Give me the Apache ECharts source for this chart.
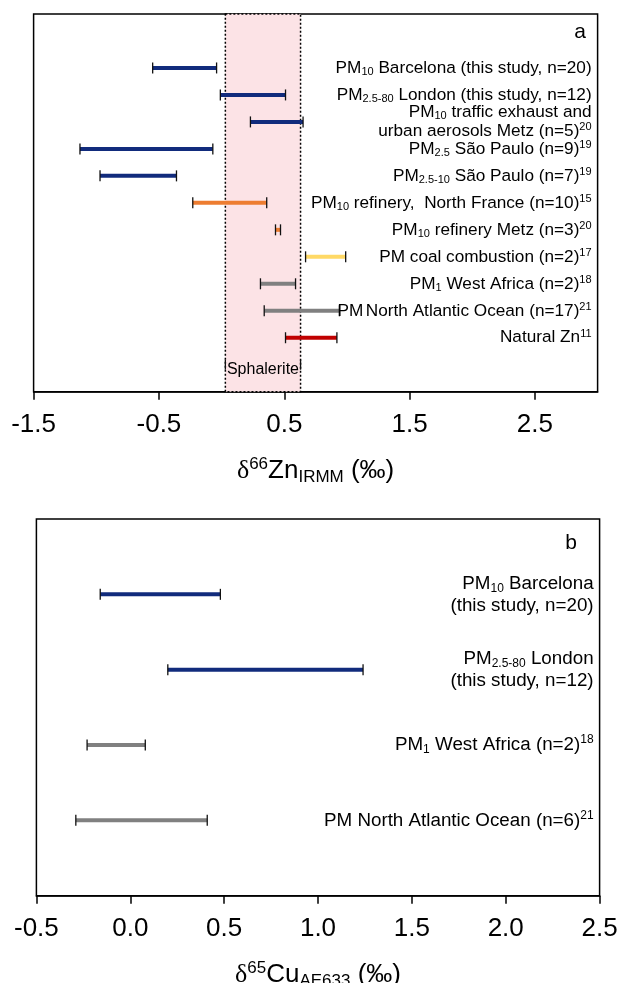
<!DOCTYPE html>
<html>
<head>
<meta charset="utf-8">
<title>Zn and Cu isotope ranges</title>
<script src="https://cdn.jsdelivr.net/npm/echarts@6/dist/echarts.min.js"></script>
<style>
html, body { margin: 0; padding: 0; background: #fff; }
#myChart { width: 620px; height: 983px; }
</style>
</head>
<body>
<div id="myChart"></div>
<script>
// ---- panel a : d66Zn ranges ----
var znLabels = [
  '{t|PM}{sub|10}{t| Barcelona (this study, n=20)}',
  '{t|PM}{sub|2.5-80}{t| London (this study, n=12)}',
  '{t|PM}{sub|10}{t| traffic exhaust and}\n{t|urban aerosols Metz (n=5)}{sup|20}',
  '{t|PM}{sub|2.5}{t| São Paulo (n=9)}{sup|19}',
  '{t|PM}{sub|2.5-10}{t| São Paulo (n=7)}{sup|19}',
  '{t|PM}{sub|10}{t| refinery,  North France (n=10)}{sup|15}',
  '{t|PM}{sub|10}{t| refinery Metz (n=3)}{sup|20}',
  '{t|PM coal combustion (n=2)}{sup|17}',
  '{t|PM}{sub|1}{t| West Africa (n=2)}{sup|18}',
  '{t|PM}{sp| }{t|North Atlantic Ocean (n=17)}{sup|21}',
  '{t|Natural Zn}{sup|11}'
];
var znLow  = [-0.55, -0.01, 0.23, -1.13, -0.97, -0.23, 0.43, 0.67, 0.31, 0.34, 0.51];
var znHigh = [-0.04,  0.51, 0.65, -0.07, -0.36,  0.36, 0.47, 0.99, 0.59, 0.94, 0.92];
var znGroup = ['urban', 'urban', 'urban', 'urban', 'urban', 'refinery', 'refinery', 'coal', 'remote', 'remote', 'natural'];
var sphalerite = [0.03, 0.63];
var znTicks = [-1.5, -0.5, 0.5, 1.5, 2.5];

// ---- panel b : d65Cu ranges ----
var cuLabels = [
  '{t|PM}{sub|10}{t| Barcelona}\n{t|(this study, n=20)}',
  '{t|PM}{sub|2.5-80}{t| London}\n{t|(this study, n=12)}',
  '{t|PM}{sub|1}{t| West Africa (n=2)}{sup|18}',
  '{t|PM North Atlantic Ocean (n=6)}{sup|21}'
];
var cuLow  = [-0.16, 0.20, -0.23, -0.29];
var cuHigh = [ 0.48, 1.24,  0.08,  0.41];
var cuGroup = ['urban', 'urban', 'remote', 'remote'];

var groupColors = {
  urban: '#112b7c',
  refinery: '#ed7d31',
  coal: '#ffd966',
  remote: '#808080',
  natural: '#c00000'
};

var FONT = 'Liberation Sans, Arial, sans-serif';

var richA = {
  t: { fontSize: 17.2, lineHeight: 19, fontFamily: FONT, fill: '#000' },
  sp: { fontSize: 9, lineHeight: 10, fontFamily: FONT, fill: '#000' },
  sub: { fontSize: 11, lineHeight: 10, verticalAlign: 'bottom', fontFamily: FONT, fill: '#000' },
  sup: { fontSize: 11, lineHeight: 10, verticalAlign: 'top', fontFamily: FONT, fill: '#000' }
};
var richB = {
  t: { fontSize: 18.8, lineHeight: 22, fontFamily: FONT, fill: '#000' },
  sub: { fontSize: 12, lineHeight: 11, verticalAlign: 'bottom', fontFamily: FONT, fill: '#000' },
  sup: { fontSize: 12, lineHeight: 11, verticalAlign: 'top', fontFamily: FONT, fill: '#000' }
};

function makeData(low, high, group, firstRow) {
  var out = [];
  for (var i = 0; i < low.length; i++) {
    out.push({
      value: [low[i], high[i], i + firstRow],
      itemStyle: { color: groupColors[group[i]] }
    });
  }
  return out;
}

// error bar + caps + label on the right
function rangeRenderer(labels, rich) {
  return function (params, api) {
    var row = api.value(2);
    var p0 = api.coord([api.value(0), row]);
    var p1 = api.coord([api.value(1), row]);
    var cs = params.coordSys;
    var capH = 5.5;
    return {
      type: 'group',
      children: [
        { type: 'line', shape: { x1: p0[0], y1: p0[1], x2: p1[0], y2: p1[1] },
          style: { stroke: api.visual('color'), lineWidth: 4 } },
        { type: 'line', shape: { x1: p0[0], y1: p0[1] - capH, x2: p0[0], y2: p0[1] + capH },
          style: { stroke: '#111', lineWidth: 1.3 } },
        { type: 'line', shape: { x1: p1[0], y1: p1[1] - capH, x2: p1[0], y2: p1[1] + capH },
          style: { stroke: '#111', lineWidth: 1.3 } },
        { type: 'text', x: cs.x + cs.width - 6, y: p0[1],
          style: { text: labels[params.dataIndex], rich: rich, align: 'right', verticalAlign: 'middle',
                   fill: '#000', fontFamily: FONT } }
      ]
    };
  };
}

function sphaleriteRenderer(params, api) {
  var row = api.value(2);
  var p0 = api.coord([api.value(0), row]);
  var p1 = api.coord([api.value(1), row]);
  return {
    type: 'group',
    children: [
      { type: 'line', shape: { x1: p0[0], y1: p0[1] - 5, x2: p0[0], y2: p0[1] + 5 },
        style: { stroke: '#111', lineWidth: 1.3 } },
      { type: 'line', shape: { x1: p1[0], y1: p1[1] - 5, x2: p1[0], y2: p1[1] + 5 },
        style: { stroke: '#111', lineWidth: 1.3 } },
      { type: 'text', x: (p0[0] + p1[0]) / 2, y: p0[1] + 5,
        style: { text: 'Sphalerite', align: 'center', verticalAlign: 'middle',
                 fill: '#000', fontSize: 16, fontFamily: FONT } }
    ]
  };
}

var axisCommon = {
  type: 'value',
  splitLine: { show: false },
  axisLine: { show: true, onZero: false, lineStyle: { color: '#000', width: 1.5 } },
  axisTick: { show: true, inside: false, length: 8, lineStyle: { color: '#000', width: 1.5 } },
  nameLocation: 'middle',
  nameGap: 64,
  nameTextStyle: {
    fontSize: 26, fontFamily: FONT, color: '#000',
    rich: {
      d: { fontSize: 26, lineHeight: 30, fontFamily: 'Liberation Serif, serif', color: '#000' },
      t: { fontSize: 26, lineHeight: 30, fontFamily: FONT, color: '#000' },
      sub: { fontSize: 17, lineHeight: 15, verticalAlign: 'bottom', fontFamily: FONT, color: '#000' },
      sup: { fontSize: 17, lineHeight: 15, verticalAlign: 'top', fontFamily: FONT, color: '#000' }
    }
  }
};

var myChart = echarts.init(document.getElementById('myChart'), null, { renderer: 'canvas' });

var option = {
  backgroundColor: '#fff',
  animation: false,
  textStyle: { fontFamily: FONT },
  grid: [
    { left: 33.6, right: 22.4, top: 14, height: 377.7, outerBoundsMode: 'none', containLabel: false,
      show: true, borderColor: '#000', borderWidth: 1.5, backgroundColor: '#fff' },
    { left: 36.4, right: 20.4, top: 519, height: 376.7, outerBoundsMode: 'none', containLabel: false,
      show: true, borderColor: '#000', borderWidth: 1.5, backgroundColor: '#fff' }
  ],
  xAxis: [
    Object.assign({}, axisCommon, {
      gridIndex: 0, min: -1.5, max: 3,
      name: '{d|δ}{sup|66}{t|Zn}{sub|IRMM}{t| (‰)}',
      axisTick: Object.assign({}, axisCommon.axisTick, { customValues: znTicks }),
      axisLabel: { customValues: znTicks, fontSize: 26, color: '#000', margin: 20, fontFamily: FONT }
    }),
    Object.assign({}, axisCommon, {
      gridIndex: 1, min: -0.5, max: 2.5, interval: 0.5,
      name: '{d|δ}{sup|65}{t|Cu}{sub|AE633}{t| (‰)}',
      axisLabel: { fontSize: 26, color: '#000', margin: 20, fontFamily: FONT,
                   showMinLabel: true, showMaxLabel: true,
                   formatter: function (v) { return v.toFixed(1); } }
    })
  ],
  yAxis: [
    { type: 'value', gridIndex: 0, min: 0, max: 14, inverse: true, show: false },
    { type: 'value', gridIndex: 1, min: 0, max: 5, inverse: true, show: false }
  ],
  graphic: [
    { type: 'text', x: 580, y: 32, style: { text: 'a', fontSize: 21, fontFamily: FONT, fill: '#000', align: 'center', verticalAlign: 'middle' } },
    { type: 'text', x: 571, y: 543, style: { text: 'b', fontSize: 21, fontFamily: FONT, fill: '#000', align: 'center', verticalAlign: 'middle' } }
  ],
  series: [
    {
      // sphalerite band behind everything
      name: 'band',
      type: 'line',
      xAxisIndex: 0, yAxisIndex: 0,
      data: [],
      z: 1,
      markArea: {
        silent: true,
        itemStyle: { color: '#fce3e6', borderColor: '#000', borderWidth: 1.5, borderType: [2, 2] },
        data: [[{ xAxis: sphalerite[0] }, { xAxis: sphalerite[1] }]]
      }
    },
    {
      name: 'Sphalerite',
      type: 'custom',
      xAxisIndex: 0, yAxisIndex: 0,
      z: 4,
      encode: { x: [0, 1], y: 2 },
      renderItem: sphaleriteRenderer,
      data: [[sphalerite[0], sphalerite[1], 13]]
    },
    {
      name: 'Zn',
      type: 'custom',
      xAxisIndex: 0, yAxisIndex: 0,
      z: 5,
      encode: { x: [0, 1], y: 2 },
      renderItem: rangeRenderer(znLabels, richA),
      data: makeData(znLow, znHigh, znGroup, 2)
    },
    {
      name: 'Cu',
      type: 'custom',
      xAxisIndex: 1, yAxisIndex: 1,
      z: 5,
      encode: { x: [0, 1], y: 2 },
      renderItem: rangeRenderer(cuLabels, richB),
      data: makeData(cuLow, cuHigh, cuGroup, 1)
    }
  ]
};

myChart.setOption(option);
</script>
</body>
</html>
